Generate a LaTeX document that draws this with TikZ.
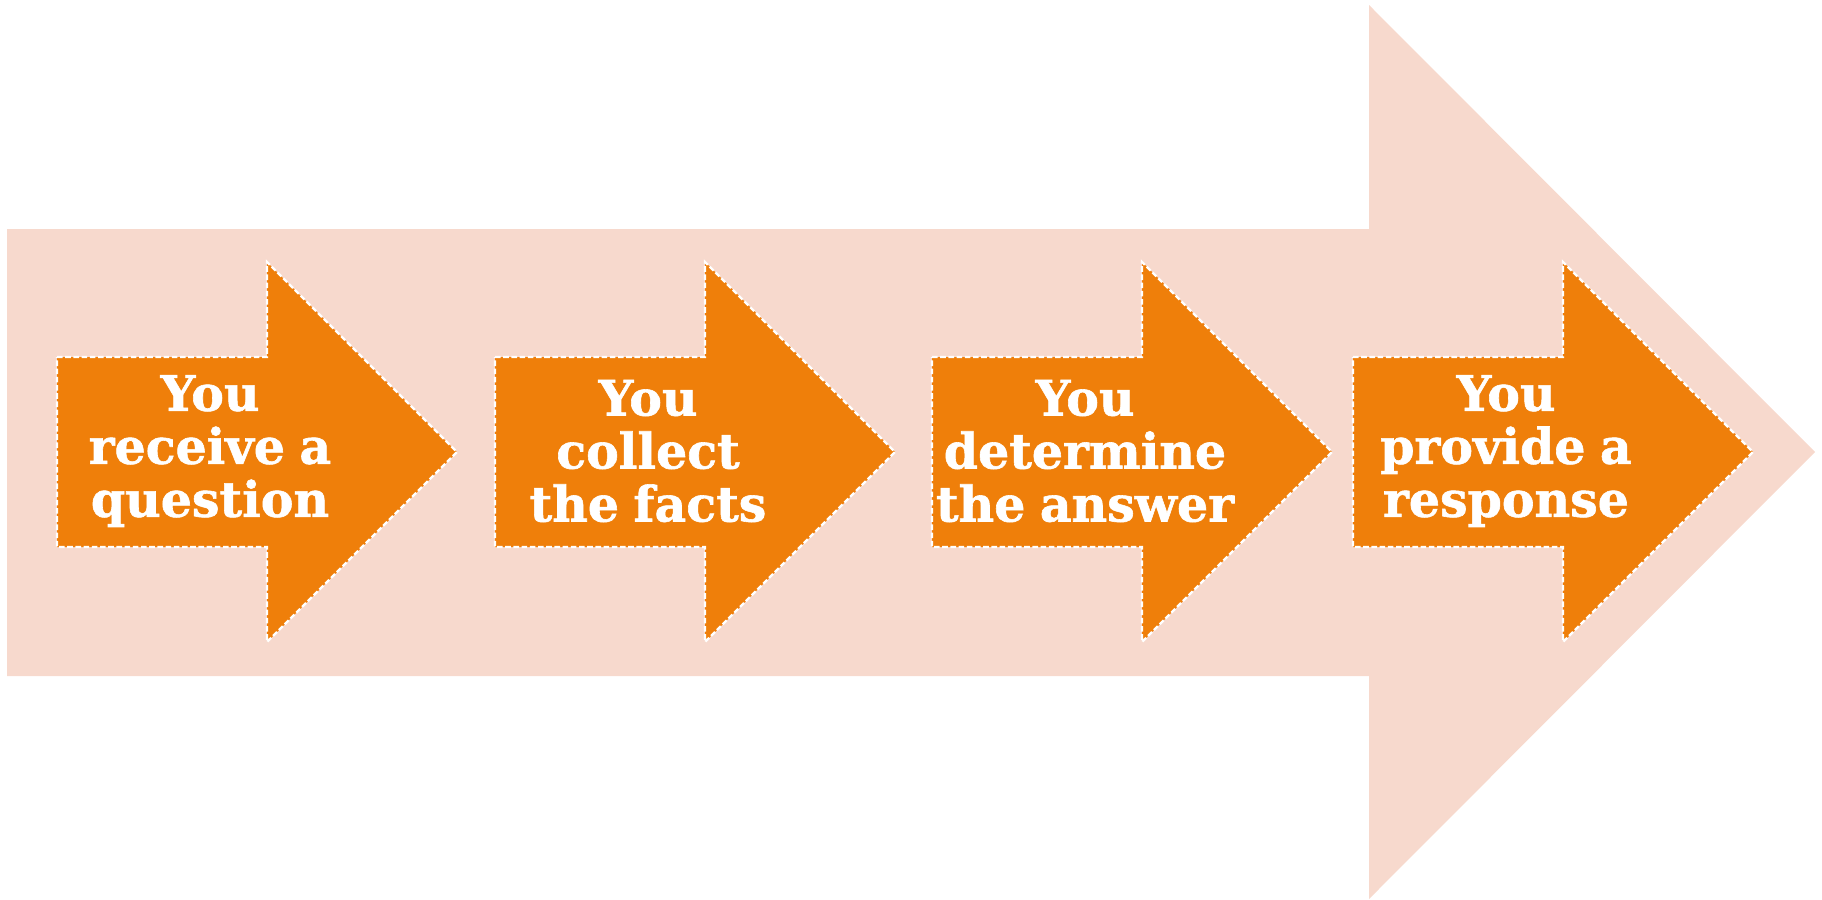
\documentclass[tikz,border=0pt]{standalone}
\usepackage{fontspec}
\newfontfamily\stepfont{DejaVu Serif Bold}[FakeBold=1.2, WordSpace=0.85]
\definecolor{peach}{HTML}{F7D9CD}
\definecolor{stepor}{HTML}{EF7F0A}
\tikzset{
  bigarrow/.style={fill=peach, draw=none},
  smallarrow/.style={fill=stepor, draw=white, line width=1.1pt, dash pattern=on 2.8pt off 1.3pt},
  steptext/.style={text=white, align=center, inner sep=0pt, font=\stepfont\fontsize{24.5}{26.5}\selectfont}
}
\newcommand{\orarrow}[3]{%
  \filldraw[smallarrow] (#1,357) -- ++(210,0) -- ++(0,-95) -- ++(190,190) -- ++(-190,190) -- ++(0,-95) -- ++(-210,0) -- cycle;
  \node[steptext] (#2) at (#1+153,451) {#3};
}
\begin{document}
\begin{tikzpicture}[x=0.5pt,y=-0.5pt]
\useasboundingbox (0,0) rectangle (1822,900);
\fill[bigarrow] (7,229) -- (1369,229) -- (1369,5) -- (1815,452) -- (1369,899) -- (1369,676) -- (7,676) -- cycle;
\orarrow{57}{s1}{You\\receive a\\question}
\orarrow{495}{s2}{You\\collect\\the facts}
\orarrow{932}{s3}{You\\determine\\the answer}
\orarrow{1353}{s4}{You\\provide a\\response}
\end{tikzpicture}
\end{document}
